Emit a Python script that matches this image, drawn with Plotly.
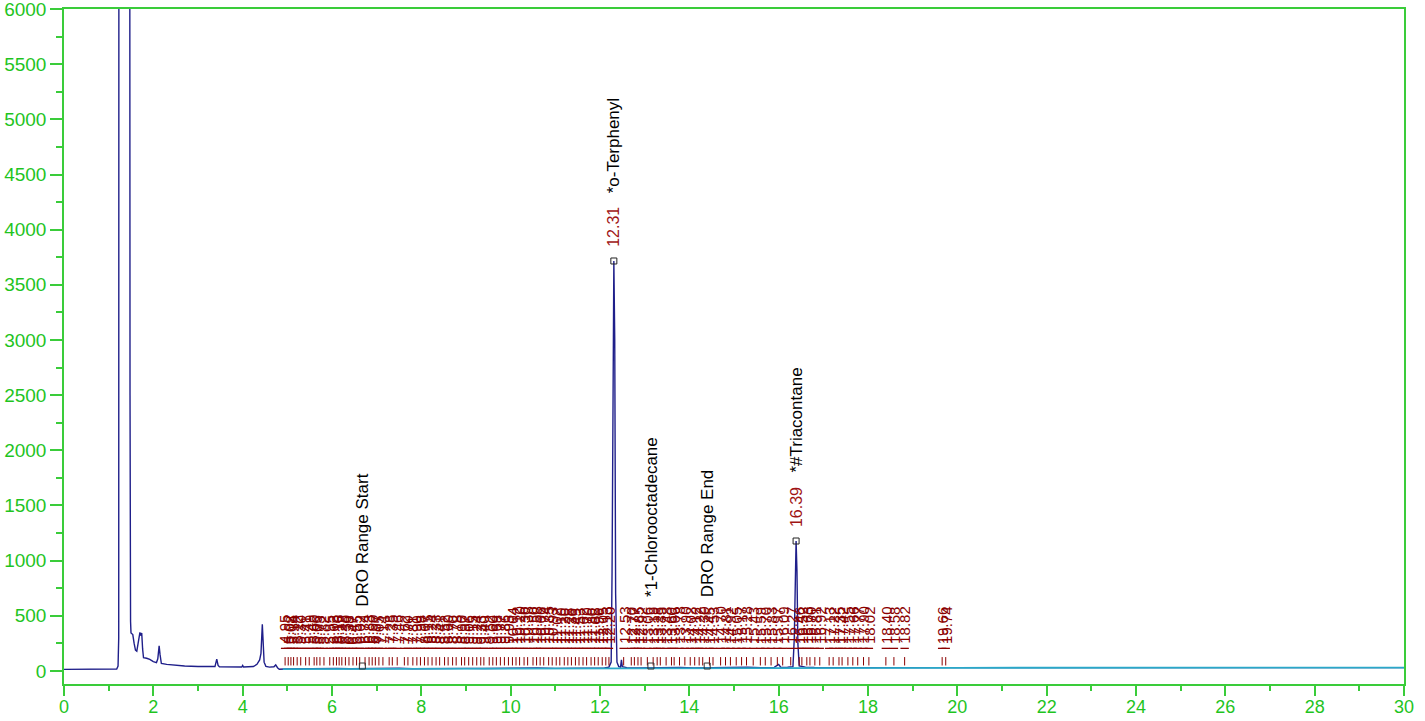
import plotly.graph_objects as go

# chromatogram trace (minutes, response)
time_min = [0.00, 0.50, 1.00, 1.18, 1.21, 1.225, 1.23, 1.47, 1.478, 1.482, 1.49, 1.50,
            1.52, 1.54, 1.57, 1.60, 1.63, 1.66, 1.68, 1.70, 1.72, 1.74, 1.76, 1.78,
            1.85, 1.92, 2.00, 2.07, 2.10, 2.13, 2.15, 2.18, 2.30, 2.50, 2.70, 3.00,
            3.30, 3.38, 3.42, 3.45, 3.48, 3.80, 3.98, 4.00, 4.02, 4.24, 4.32, 4.38,
            4.41, 4.44, 4.46, 4.48, 4.52, 4.60, 4.70, 4.74, 4.78, 4.82, 4.95, 5.20,
            5.50, 5.80, 6.10, 6.40, 6.80, 7.20, 7.50, 7.80, 8.20, 8.60, 9.00, 9.40,
            9.80, 10.20, 10.60, 11.00, 11.40, 11.80, 12.10, 12.20, 12.25, 12.27, 12.29,
            12.31, 12.33, 12.35, 12.38, 12.42, 12.46, 12.48, 12.50, 12.60, 12.90, 13.20,
            13.50, 13.80, 14.10, 14.40, 14.70, 15.00, 15.30, 15.60, 15.90, 16.00, 16.05,
            16.20, 16.32, 16.35, 16.37, 16.39, 16.41, 16.43, 16.46, 16.60, 16.80, 17.20,
            17.60, 18.00, 18.50, 19.00, 19.50, 20.00, 22.00, 25.00, 28.00, 30.00]
signal = [15, 15, 16, 18, 45, 300, 9000, 9000, 2500, 640, 450, 345,
          340, 330, 250, 190, 180, 240, 310, 350, 320, 345, 200, 120,
          115, 105, 85, 75, 110, 228, 150, 68, 60, 50, 45, 40,
          36, 40, 108, 50, 38, 35, 36, 50, 36, 40, 60, 100,
          160, 423, 250, 80, 42, 35, 38, 55, 30, 16, 18, 20,
          22, 19, 24, 20, 22, 21, 25, 20, 23, 21, 24, 22,
          25, 23, 27, 24, 26, 24, 28, 35, 80, 900, 3000,
          3716, 3000, 700, 80, 40, 35, 100, 40, 30, 27, 30,
          27, 32, 28, 30, 33, 29, 35, 30, 33, 60, 32,
          34, 40, 300, 900, 1178, 900, 250, 45, 35, 32, 30,
          30, 30, 30, 30, 29, 30, 30, 30, 30, 30]

baseline_time = [4.90, 8.00, 12.00, 16.00, 20.00, 30.00]
baseline_signal = [17, 20, 24, 28, 29, 30]

# retention times of the small integrated peaks
peak_rt = [4.95, 5.02, 5.08, 5.14, 5.22, 5.30, 5.41, 5.49, 5.60, 5.66, 5.73, 5.82,
           5.95, 6.03, 6.10, 6.16, 6.22, 6.30, 6.38, 6.47, 6.55, 6.62, 6.74, 6.83,
           6.90, 6.97, 7.05, 7.14, 7.28, 7.35, 7.46, 7.62, 7.70, 7.81, 7.90, 7.98,
           8.07, 8.15, 8.24, 8.33, 8.41, 8.52, 8.60, 8.70, 8.78, 8.90, 8.97, 9.06,
           9.15, 9.24, 9.33, 9.40, 9.52, 9.60, 9.68, 9.77, 9.86, 9.95, 10.04, 10.12,
           10.20, 10.30, 10.38, 10.50, 10.58, 10.66, 10.74, 10.85, 10.93, 11.02, 11.10,
           11.20, 11.28, 11.36, 11.45, 11.53, 11.62, 11.70, 11.80, 11.88, 11.96, 12.05,
           12.13, 12.20, 12.53, 12.70, 12.77, 12.85, 12.92, 13.06, 13.19, 13.28, 13.35,
           13.48, 13.60, 13.66, 13.78, 13.90, 14.02, 14.12, 14.22, 14.30, 14.45, 14.53,
           14.70, 14.81, 14.92, 15.05, 15.17, 15.28, 15.43, 15.59, 15.70, 15.83, 15.97,
           16.09, 16.27, 16.46, 16.52, 16.63, 16.70, 16.81, 16.92, 17.13, 17.22, 17.35,
           17.42, 17.55, 17.66, 17.77, 17.90, 18.02, 18.40, 18.58, 18.82, 19.66, 19.74]

# named peaks
main_rt = [12.31, 16.39]
main_height = [3716, 1178]
main_names = ["*o-Terphenyl", "*#Triacontane"]

# range / surrogate markers
event_rt = [6.68, 13.14, 14.40]
event_names = ["DRO Range Start", "*1-Chlorooctadecane", "DRO Range End"]

x_ticks = list(range(0, 31, 2))
y_ticks = list(range(0, 6001, 500))

GREEN = "#3acc3a"
RED = "#8b0000"
FONT = "Liberation Sans, Arial, sans-serif"

fig = go.Figure()

fig.add_trace(go.Scatter(x=time_min, y=signal, mode="lines",
                         line=dict(color="#1f1f8a", width=1.4)))
fig.add_trace(go.Scatter(x=baseline_time, y=baseline_signal, mode="lines",
                         line=dict(color="#2aa8c8", width=1.8)))

# integration tick marks and label leaders
fig.add_trace(go.Scatter(x=peak_rt, y=[88] * len(peak_rt), mode="markers",
                         marker=dict(symbol="line-ns", size=6, color=RED,
                                     line=dict(color=RED, width=1))))
fig.add_trace(go.Scatter(x=peak_rt, y=[205] * len(peak_rt), mode="markers",
                         marker=dict(symbol="line-ew", size=6, color=RED,
                                     line=dict(color=RED, width=1.3))))

# boxes at the named peaks and the event markers
fig.add_trace(go.Scatter(x=main_rt, y=main_height, mode="markers",
                         marker=dict(symbol="square-open", size=6, color="#222222",
                                     line=dict(width=1))))
fig.add_trace(go.Scatter(x=event_rt, y=[45] * len(event_rt), mode="markers",
                         marker=dict(symbol="square-open", size=6, color="#333333",
                                     line=dict(width=1))))

for rt in peak_rt:
    fig.add_annotation(x=rt, y=225, text=f"{rt:.2f}", showarrow=False,
                       textangle=-90, xanchor="center", yanchor="bottom",
                       font=dict(family=FONT, size=15, color=RED))

for rt, h, name in zip(main_rt, main_height, main_names):
    fig.add_annotation(x=rt, y=h, text=f"{rt:.2f}", showarrow=False,
                       textangle=-90, xanchor="center", yanchor="bottom", yshift=12,
                       font=dict(family=FONT, size=16, color="#a01414"))
    fig.add_annotation(x=rt, y=h, text=name, showarrow=False,
                       textangle=-90, xanchor="center", yanchor="bottom", yshift=66,
                       font=dict(family=FONT, size=17, color="black"))

event_base = [562, 652, 652]
for rt, name, base in zip(event_rt, event_names, event_base):
    fig.add_annotation(x=rt, y=base, text=name, showarrow=False,
                       textangle=-90, xanchor="center", yanchor="bottom",
                       font=dict(family=FONT, size=17, color="black"))

fig.update_layout(
    width=1425, height=721,
    margin=dict(l=64, r=21, t=9, b=37),
    paper_bgcolor="white", plot_bgcolor="white",
    showlegend=False,
    font=dict(family=FONT),
)

fig.update_xaxes(
    range=[0, 30], tickvals=x_ticks, showgrid=False, zeroline=False, automargin=False,
    showline=True, linecolor=GREEN, linewidth=1.5, mirror=True,
    ticks="outside", ticklen=10, tickcolor=GREEN, tickwidth=1.5,
    minor=dict(dtick=1, ticks="outside", ticklen=5, tickcolor=GREEN, showgrid=False),
    tickfont=dict(family=FONT, size=18, color="#1fc41f"),
    ticklabeloverflow="allow", ticklabelstandoff=-4,
)
fig.update_yaxes(
    range=[-118, 6000], tickvals=y_ticks, showgrid=False, zeroline=False, automargin=False,
    showline=True, linecolor=GREEN, linewidth=1.5, mirror=True,
    ticks="outside", ticklen=12, tickcolor=GREEN, tickwidth=1.5,
    minor=dict(dtick=250, ticks="outside", ticklen=6, tickcolor=GREEN, showgrid=False),
    tickfont=dict(family=FONT, size=19, color="#1fc41f"),
    ticklabeloverflow="allow",
)

# page body has a default margin; drop it so the figure fills the window
fig.write_html("out.html", config={"displayModeBar": False},
               post_script="document.body.style.margin='0';")
